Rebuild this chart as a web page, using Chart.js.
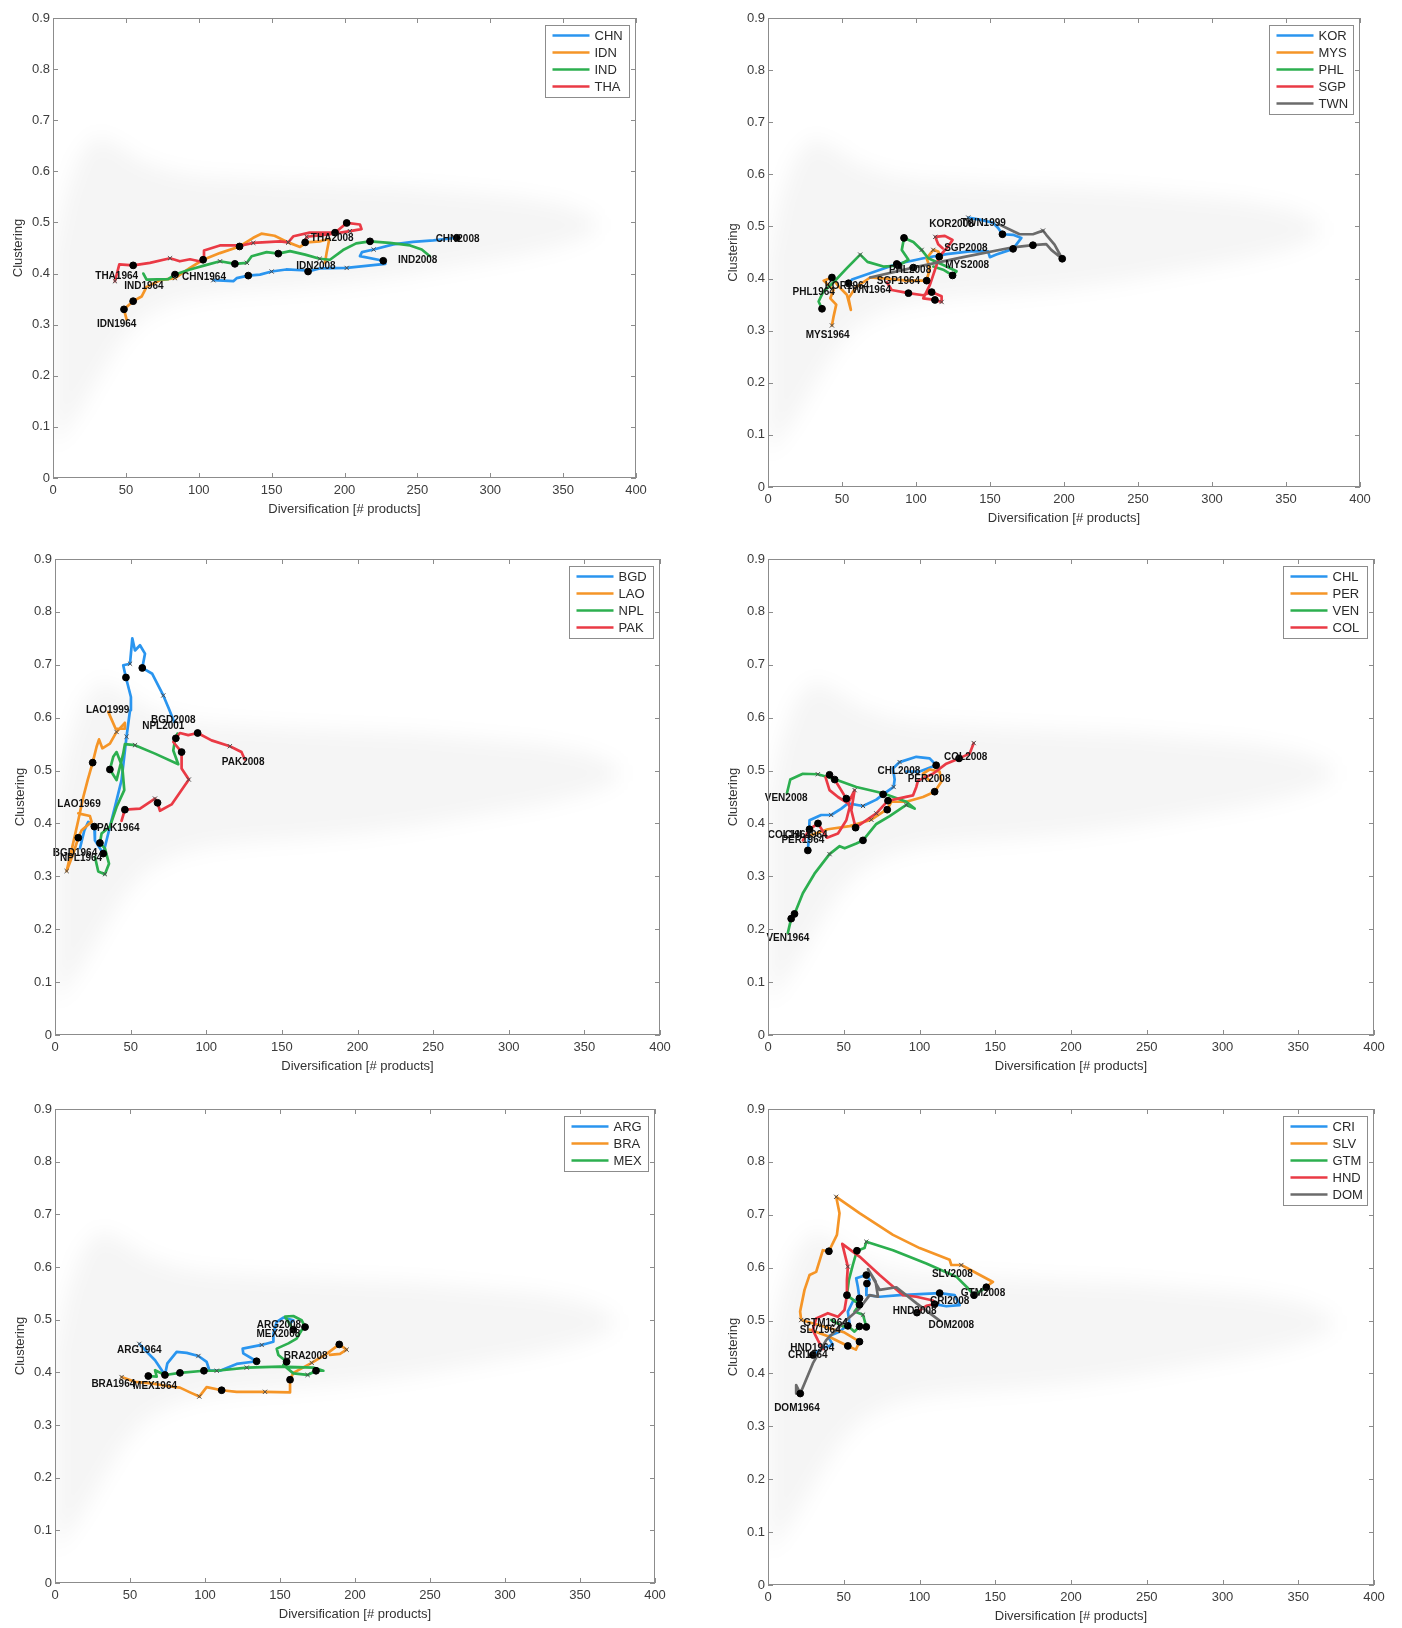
<!DOCTYPE html>
<html>
<head>
<meta charset="utf-8">
<script src="https://cdn.jsdelivr.net/npm/chart.js@4/dist/chart.umd.min.js"></script>
<style>
  html, body { margin: 0; padding: 0; background: #fff; }
  body { width: 1402px; height: 1628px; position: relative; overflow: hidden; }
  canvas.panel { position: absolute; }
</style>
</head>
<body>
<canvas id="p1" class="panel"></canvas>
<canvas id="p2" class="panel"></canvas>
<canvas id="p3" class="panel"></canvas>
<canvas id="p4" class="panel"></canvas>
<canvas id="p5" class="panel"></canvas>
<canvas id="p6" class="panel"></canvas>
<script>
// Axis ticks shared by all panels
const X_TICKS = [0, 50, 100, 150, 200, 250, 300, 350, 400];
const Y_TICKS = [0, 0.1, 0.2, 0.3, 0.4, 0.5, 0.6, 0.7, 0.8, 0.9];

// Envelope of all countries (background cloud): x, upper and lower clustering
const HAZE_X  = [0, 8, 18, 30, 45, 60, 80, 100, 130, 160, 200, 240, 280, 320, 350, 372];
const HAZE_HI = [0.44, 0.55, 0.63, 0.67, 0.65, 0.62, 0.60, 0.59, 0.585, 0.58, 0.575, 0.57, 0.56, 0.55, 0.535, 0.51];
const HAZE_LO = [0.06, 0.09, 0.13, 0.19, 0.26, 0.31, 0.34, 0.355, 0.365, 0.37, 0.38, 0.395, 0.415, 0.435, 0.455, 0.48];

// Trajectories: [diversification, clustering, marker] ; marker 0 none, 1 dot, 2 cross
const CHN = [[110,0.387,2],[123.7,0.385,0],[126,0.391,0],[134,0.396,1],[142,0.398,0],[150,0.404,2],[160,0.408,0],[174,0.406,0],[175,0.404,1],[183,0.410,0],[201.5,0.411,2],[228,0.419,0],[226.6,0.425,1],[210.6,0.434,0],[212,0.442,0],[220,0.447,2],[233.5,0.457,0],[247,0.462,0],[261,0.465,0],[277,0.470,1]];
const IDN = [[50.5,0.310,0],[48.7,0.330,1],[55,0.346,1],[60.8,0.355,0],[64.2,0.374,0],[73.4,0.387,0],[83.7,0.391,2],[94,0.411,0],[103,0.427,0],[114.5,0.440,0],[128,0.453,1],[137.4,0.470,0],[143,0.478,0],[152,0.474,0],[161.4,0.461,2],[169.5,0.452,0],[174,0.461,0],[183,0.463,0],[189.6,0.468,0],[187.7,0.440,0],[186.6,0.421,0]];
const IND = [[62,0.400,0],[64.2,0.388,0],[79,0.389,0],[83.7,0.398,1],[94,0.408,0],[105.4,0.417,0],[114.6,0.424,2],[124.8,0.419,1],[133,0.421,2],[136.3,0.434,0],[146.6,0.442,0],[154.6,0.439,1],[162.6,0.444,0],[173,0.437,0],[183,0.429,2],[190,0.427,0],[199,0.446,0],[208,0.459,0],[217.5,0.463,1],[231,0.460,0],[245,0.455,0],[253,0.447,0],[258.6,0.434,0]];
const THA = [[42.5,0.385,2],[45.5,0.418,0],[55,0.416,1],[66.5,0.421,0],[80.3,0.430,2],[87,0.424,0],[94,0.428,0],[102,0.423,0],[103,0.427,1],[103.6,0.445,0],[114.5,0.455,0],[129.4,0.455,0],[137.4,0.460,2],[155.7,0.463,0],[161.4,0.461,2],[165,0.473,0],[176,0.480,0],[193.5,0.480,1],[201.5,0.499,1],[210.6,0.496,0],[211.7,0.487,0],[203.7,0.483,2],[187.7,0.476,0],[174,0.472,2],[173,0.461,1]];

const KOR = [[54.4,0.391,1],[56.7,0.398,0],[75.8,0.417,0],[87,0.428,1],[105,0.439,0],[120.7,0.447,0],[136.4,0.452,0],[148.7,0.452,0],[149.9,0.441,0],[154.3,0.446,0],[165.6,0.457,1],[171.2,0.478,0],[165.6,0.484,0],[158.4,0.485,1],[155.5,0.497,0],[152,0.507,0],[143,0.513,0],[135.3,0.517,2]];
const MYS = [[43.2,0.310,2],[44.3,0.327,0],[46.1,0.350,0],[42.1,0.362,0],[44.3,0.378,0],[37.6,0.396,0],[43.2,0.402,1],[47.7,0.385,0],[53.3,0.369,0],[56,0.340,0],[54.4,0.362,0],[58.9,0.382,2],[69,0.402,0],[80.3,0.400,0],[93.7,0.396,0],[107.2,0.396,1],[109.4,0.420,0],[107.2,0.439,0],[111.7,0.455,2],[115,0.452,0],[117.3,0.439,0]];
const PHL = [[36.5,0.342,1],[34.2,0.356,0],[37.2,0.374,0],[44.3,0.393,0],[53.3,0.420,0],[62.3,0.446,2],[67.2,0.432,0],[78,0.423,0],[88.1,0.425,1],[94.9,0.436,0],[90.4,0.455,0],[91.9,0.478,1],[98.2,0.470,0],[103.8,0.455,2],[108.3,0.439,0],[118.4,0.426,0],[127.4,0.414,0],[124.7,0.406,1],[118.4,0.417,0],[111.7,0.423,0]];
const SGP = [[80.3,0.393,0],[83.6,0.378,0],[94.9,0.372,1],[104.9,0.368,0],[110.6,0.374,1],[117.3,0.366,0],[117.3,0.355,2],[112.8,0.359,1],[104.9,0.362,0],[109.4,0.388,0],[113.9,0.426,0],[115.7,0.442,1],[121.8,0.462,0],[124.7,0.474,0],[119.5,0.482,0],[113,0.480,2],[115,0.466,0],[118,0.458,0]];
const TWN = [[69,0.402,0],[98.2,0.421,1],[131.9,0.441,0],[165.6,0.460,0],[179,0.464,1],[188,0.466,0],[191.4,0.455,0],[198.8,0.438,1],[193.6,0.465,0],[188,0.484,0],[185.8,0.492,2],[179,0.485,0],[170,0.485,0],[163.3,0.494,0],[155.5,0.505,0]];

const BGD = [[16.5,0.353,0],[19.4,0.387,0],[22,0.403,0],[26,0.394,1],[26.4,0.368,0],[31.9,0.343,1],[35.2,0.381,0],[39.6,0.431,0],[44,0.482,0],[47.3,0.564,2],[49.6,0.614,0],[50.2,0.639,0],[46.9,0.676,1],[45.1,0.699,0],[49.6,0.702,2],[51.1,0.750,0],[52.9,0.727,0],[56.2,0.737,0],[59.5,0.721,0],[57.7,0.694,1],[64.3,0.683,0],[71.6,0.642,2],[75.3,0.617,0],[78.8,0.592,0]];
const LAO = [[15.4,0.419,0],[23.1,0.414,0],[24.2,0.403,0],[17.6,0.387,0],[15.4,0.373,1],[12.1,0.343,0],[7.7,0.310,2],[11,0.350,0],[15.4,0.406,0],[18.7,0.450,0],[21.6,0.482,0],[24.9,0.515,1],[27.5,0.545,0],[29.1,0.559,0],[31.3,0.542,0],[36.3,0.551,0],[40.7,0.573,2],[46.2,0.590,0],[46.2,0.579,0],[40.1,0.579,0],[35.2,0.611,0]];
const NPL = [[26.4,0.337,0],[28.6,0.309,0],[33,0.304,2],[35.7,0.324,0],[33,0.353,0],[29.7,0.363,1],[30.8,0.381,0],[36.3,0.394,0],[40.7,0.431,0],[45.8,0.463,0],[44.5,0.507,0],[40.7,0.535,0],[38.5,0.526,0],[36.3,0.502,1],[40.7,0.482,0],[45.1,0.532,0],[46.2,0.550,0],[52.9,0.548,2],[66.1,0.532,0],[81.5,0.512,0],[78.2,0.538,0],[79.3,0.557,0],[81,0.570,0]];
const PAK = [[44,0.405,0],[46.2,0.426,1],[56.2,0.428,0],[66.1,0.447,2],[67.8,0.439,1],[69.4,0.424,0],[77.1,0.436,0],[88.5,0.483,2],[83.7,0.504,0],[83.7,0.535,1],[78.2,0.554,0],[79.9,0.561,1],[82.6,0.571,0],[88.1,0.567,0],[94.3,0.571,1],[103.5,0.557,0],[115.6,0.546,2],[123.3,0.535,0],[125.5,0.521,0]];

const CHL = [[26.3,0.349,1],[27,0.375,0],[27.4,0.406,0],[35.1,0.416,0],[41.7,0.416,2],[48.4,0.428,0],[52.8,0.438,0],[62.7,0.433,2],[71.5,0.445,0],[76,0.455,1],[82.9,0.469,2],[83.6,0.483,0],[82.5,0.504,0],[86.9,0.516,2],[97.9,0.526,0],[106.7,0.523,0],[111,0.510,1],[100.1,0.498,0],[91.3,0.498,0]];
const PER = [[28.5,0.378,0],[39.5,0.389,0],[53.9,0.395,0],[68.2,0.407,2],[75.9,0.422,0],[78.7,0.426,1],[81.4,0.441,0],[91.3,0.441,0],[102.3,0.450,0],[110,0.460,1],[114.4,0.479,0],[113.3,0.498,0],[106.7,0.502,0],[102.3,0.494,0],[106.7,0.481,0]];
const VEN = [[13.1,0.193,0],[15.3,0.220,1],[17.5,0.229,1],[23,0.268,0],[30.7,0.305,0],[40.6,0.342,2],[47.3,0.357,0],[50.6,0.353,0],[58.3,0.362,0],[62.7,0.368,1],[71.5,0.399,0],[80.3,0.414,0],[91.3,0.435,2],[96.8,0.428,0],[91.3,0.441,0],[75.9,0.457,0],[58.3,0.469,0],[42.8,0.485,0],[32.9,0.493,2],[23,0.494,0],[14.7,0.483,0],[12.5,0.457,0]];
const COL = [[23,0.368,0],[27.4,0.389,1],[33,0.400,1],[38.9,0.373,0],[46.2,0.381,0],[51.7,0.406,0],[53.9,0.431,0],[51.7,0.447,1],[44,0.483,1],[40.6,0.492,1],[38,0.487,0],[40.6,0.463,0],[46.2,0.450,0],[52.8,0.438,0],[57.2,0.463,2],[55,0.425,0],[57.8,0.392,1],[71.5,0.419,2],[79.2,0.443,1],[85.8,0.447,0],[95.7,0.453,0],[97.9,0.469,0],[99,0.481,0],[108.9,0.494,0],[117.7,0.513,0],[126.1,0.523,1],[133.1,0.532,0],[135.8,0.552,2]];

const ARG = [[56.2,0.454,2],[62.2,0.436,0],[66.7,0.423,0],[73.3,0.395,1],[74.9,0.417,0],[81.1,0.439,0],[87.8,0.437,0],[95.6,0.431,2],[101.1,0.420,0],[102.9,0.404,0],[110,0.403,0],[121.1,0.416,0],[134.4,0.421,1],[125.5,0.436,0],[125.1,0.445,0],[137.8,0.452,2],[145.6,0.458,0],[145.6,0.474,0],[147.8,0.496,0],[152.2,0.504,0],[158.9,0.499,0],[156.7,0.493,0]];
const BRA = [[44.4,0.391,2],[53.3,0.382,0],[64.4,0.379,0],[74.4,0.374,0],[83.3,0.371,0],[90,0.362,0],[96.2,0.354,2],[101.1,0.372,0],[111.1,0.366,1],[121.1,0.363,0],[140,0.363,2],[156.7,0.362,0],[156.7,0.386,1],[158.9,0.399,0],[171.1,0.418,2],[181.1,0.435,0],[189.5,0.453,1],[194.4,0.443,2],[190,0.435,0],[183.3,0.433,0]];
const MEX = [[62.2,0.393,1],[67.8,0.392,0],[66.7,0.404,0],[73.3,0.395,0],[83.3,0.399,1],[99.3,0.403,1],[107.8,0.403,2],[127.8,0.409,2],[150,0.411,0],[172.2,0.409,0],[178.9,0.403,0],[174,0.403,1],[168.4,0.395,2],[158.9,0.398,0],[152.2,0.414,0],[154.4,0.420,1],[148.9,0.433,0],[147.8,0.445,0],[155.6,0.455,0],[161.1,0.464,0],[164.4,0.480,0],[166.7,0.486,1],[164.4,0.499,0],[158.9,0.507,0],[153.3,0.506,0],[158.9,0.481,1]];

const CRI = [[29.6,0.435,1],[36.2,0.448,0],[42.8,0.454,0],[39.5,0.470,0],[47.2,0.479,0],[53.8,0.495,0],[52.7,0.517,0],[56,0.536,0],[60.4,0.542,1],[59.3,0.564,0],[58.2,0.580,0],[64.9,0.586,1],[67.1,0.577,0],[65.3,0.570,1],[64.9,0.548,0],[73.7,0.545,0],[86.9,0.548,0],[100.1,0.550,0],[113.3,0.552,1],[123.2,0.548,0],[126.5,0.529,0],[117.7,0.527,0],[110,0.531,0]];
const SLV = [[27.4,0.483,0],[40,0.470,0],[52.7,0.452,1],[58,0.445,0],[60.4,0.460,1],[50,0.478,0],[21.9,0.501,2],[21.2,0.517,0],[24.1,0.558,0],[27.4,0.586,0],[31.8,0.592,0],[36.2,0.633,0],[40.2,0.631,1],[45.5,0.662,0],[47.2,0.703,0],[45,0.734,2],[60.4,0.703,0],[82.5,0.662,0],[100.1,0.637,0],[119.9,0.615,0],[121,0.605,0],[127.6,0.605,2],[148.5,0.573,0],[146.3,0.569,0]];
const GTM = [[41.7,0.501,0],[49.4,0.489,0],[52.7,0.490,1],[57.1,0.479,0],[60.4,0.489,1],[64.9,0.488,1],[62.7,0.511,2],[57.1,0.517,0],[60.4,0.530,1],[52.1,0.548,0],[53.4,0.577,0],[56,0.605,0],[58.7,0.632,1],[63.7,0.637,0],[64.9,0.649,2],[82.5,0.633,0],[104.5,0.608,0],[124.3,0.583,0],[132,0.561,0],[136,0.548,1],[144.1,0.563,1]];
const HND = [[36.2,0.446,0],[32.9,0.463,0],[29.6,0.482,0],[31.8,0.504,0],[39.5,0.514,0],[46.1,0.507,0],[50.5,0.520,0],[52.1,0.548,1],[52.1,0.577,0],[52.7,0.602,2],[49,0.645,0],[60.4,0.621,0],[73.7,0.586,0],[89.1,0.548,0],[97.9,0.545,0],[108.9,0.538,0],[110,0.531,1],[104.5,0.528,0],[98.3,0.515,1]];
const DOM = [[19,0.362,0],[18.6,0.378,0],[21.3,0.362,1],[24.1,0.381,0],[29.6,0.419,0],[38.4,0.463,0],[49.4,0.495,0],[60.4,0.523,0],[67.1,0.548,0],[72.6,0.545,0],[71,0.574,0],[66,0.597,0],[73.7,0.558,0],[84.7,0.563,0],[97.9,0.533,0],[113.3,0.500,0]];

// Start / end annotations: [text, diversification, clustering]
const P1_LABELS = [['THA1964',43.7,0.395],['IND1964',62.4,0.375],['IDN1964',43.7,0.300],['CHN1964',103.6,0.393],['THA2008',191.6,0.470],['IDN2008',180.4,0.414],['CHN2008',277.6,0.468],['IND2008',250.2,0.426]];
const P2_LABELS = [['KOR2008',124,0.505],['TWN1999',145.5,0.506],['SGP2008',133.7,0.458],['MYS2008',134.6,0.425],['PHL2008',96,0.416],['SGP1964',88.1,0.394],['KOR1964',53.3,0.386],['TWN1964',67.9,0.378],['PHL1964',30.9,0.374],['MYS1964',40.3,0.291]];
const P3_LABELS = [['LAO1999',34.8,0.614],['BGD2008',78.2,0.596],['NPL2001',71.6,0.584],['PAK2008',124.4,0.516],['LAO1969',15.9,0.436],['PAK1964',41.8,0.390],['BGD1964',13.2,0.344],['NPL1964',17.2,0.334]];
const P4_LABELS = [['COL2008',130.5,0.525],['CHL2008',86.4,0.498],['PER2008',106.3,0.483],['VEN2008',12,0.448],['COL1964',14.2,0.377],['CHL1964',25.2,0.377],['PER1964',23,0.368],['VEN1964',13.1,0.183]];
const P5_LABELS = [['ARG2008',149.3,0.490],['MEX2008',148.9,0.473],['BRA2008',167.1,0.431],['ARG1964',56.2,0.442],['BRA1964',38.9,0.378],['MEX1964',66.7,0.374]];
const P6_LABELS = [['SLV2008',121.7,0.587],['GTM2008',141.9,0.552],['CRI2008',119.9,0.536],['HND2008',96.8,0.517],['DOM2008',121,0.492],['GTM1964',38,0.494],['SLV1964',34.5,0.482],['HND1964',29.2,0.448],['CRI1964',26.3,0.435],['DOM1964',19.1,0.334]];

// ---------------------------------------------------------------------------
const FONT = '"Liberation Sans", Arial, Helvetica, sans-serif';
const COLORS = ['#2a95ef', '#f59527', '#2caf4f', '#ea3a45', '#6b6b6b'];

const PANELS = [
  { id: 'p1', box: [53, 18, 636, 478], series: [['CHN', CHN], ['IDN', IDN], ['IND', IND], ['THA', THA]], labels: P1_LABELS },
  { id: 'p2', box: [768, 18, 1360, 487], series: [['KOR', KOR], ['MYS', MYS], ['PHL', PHL], ['SGP', SGP], ['TWN', TWN]], labels: P2_LABELS },
  { id: 'p3', box: [55, 559, 660, 1035], series: [['BGD', BGD], ['LAO', LAO], ['NPL', NPL], ['PAK', PAK]], labels: P3_LABELS },
  { id: 'p4', box: [768, 559, 1374, 1035], series: [['CHL', CHL], ['PER', PER], ['VEN', VEN], ['COL', COL]], labels: P4_LABELS },
  { id: 'p5', box: [55, 1109, 655, 1583], series: [['ARG', ARG], ['BRA', BRA], ['MEX', MEX]], labels: P5_LABELS },
  { id: 'p6', box: [768, 1109, 1374, 1585], series: [['CRI', CRI], ['SLV', SLV], ['GTM', GTM], ['HND', HND], ['DOM', DOM]], labels: P6_LABELS }
];

// light cloud behind trajectories
const hazePlugin = {
  id: 'haze',
  beforeDatasetsDraw(chart) {
    const { ctx, chartArea: a, scales: { x, y } } = chart;
    ctx.save();
    ctx.beginPath();
    ctx.rect(a.left, a.top, a.right - a.left, a.bottom - a.top);
    ctx.clip();
    ctx.filter = 'blur(10px)';
    ctx.fillStyle = 'rgba(0,0,0,0.04)';
    ctx.beginPath();
    HAZE_X.forEach((v, i) => {
      const px = x.getPixelForValue(v), py = y.getPixelForValue(HAZE_HI[i]);
      if (i === 0) ctx.moveTo(px, py); else ctx.lineTo(px, py);
    });
    for (let i = HAZE_X.length - 1; i >= 0; i--) {
      ctx.lineTo(x.getPixelForValue(HAZE_X[i]), y.getPixelForValue(HAZE_LO[i]));
    }
    ctx.closePath();
    ctx.fill();
    ctx.restore();
  }
};

// country-year annotations
const tagPlugin = {
  id: 'tags',
  afterDatasetsDraw(chart, args, opts) {
    const { ctx, scales: { x, y } } = chart;
    ctx.save();
    ctx.font = 'bold 10px ' + FONT;
    ctx.fillStyle = '#111';
    ctx.textAlign = 'center';
    ctx.textBaseline = 'middle';
    (opts.items || []).forEach(([t, vx, vy]) => {
      ctx.fillText(t, x.getPixelForValue(vx), y.getPixelForValue(vy));
    });
    ctx.restore();
  }
};

// box frame with inward ticks, then legend
const framePlugin = {
  id: 'frame',
  afterDraw(chart) {
    const { ctx, chartArea: a, scales: { x, y } } = chart;
    ctx.save();
    ctx.strokeStyle = '#8c8c8c';
    ctx.lineWidth = 1;
    ctx.strokeRect(a.left + 0.5, a.top + 0.5, a.right - a.left - 1, a.bottom - a.top - 1);
    ctx.beginPath();
    X_TICKS.forEach(v => {
      const px = Math.round(x.getPixelForValue(v)) + 0.5;
      ctx.moveTo(px, a.bottom); ctx.lineTo(px, a.bottom - 5);
      ctx.moveTo(px, a.top); ctx.lineTo(px, a.top + 5);
    });
    Y_TICKS.forEach(v => {
      const py = Math.round(y.getPixelForValue(v)) + 0.5;
      ctx.moveTo(a.left, py); ctx.lineTo(a.left + 5, py);
      ctx.moveTo(a.right, py); ctx.lineTo(a.right - 5, py);
    });
    ctx.stroke();

    // legend
    const items = chart.data.datasets.filter(d => d.isTrack);
    const w = 84, rowH = 17;
    const h = items.length * rowH + 4;
    const bx = Math.round(a.right - 7 - w) + 0.5, by = Math.round(a.top + 7) + 0.5;
    ctx.fillStyle = '#fff';
    ctx.fillRect(bx, by, w, h);
    ctx.strokeStyle = '#8c8c8c';
    ctx.strokeRect(bx, by, w, h);
    ctx.font = '13px ' + FONT;
    ctx.textBaseline = 'middle';
    ctx.textAlign = 'left';
    items.forEach((d, i) => {
      const cy = by + 10 + i * rowH;
      ctx.strokeStyle = d.borderColor;
      ctx.lineWidth = 2.6;
      ctx.beginPath();
      ctx.moveTo(bx + 7, cy); ctx.lineTo(bx + 44, cy);
      ctx.stroke();
      ctx.fillStyle = '#2a2a2a';
      ctx.fillText(d.label, bx + 49, cy + 0.5);
    });
    ctx.restore();
  }
};

const W_AX = 55, H_AX = 45, PAD_T = 12, PAD_R = 24;

PANELS.forEach(p => {
  const [L, T, R, B] = p.box;
  const cv = document.getElementById(p.id);
  const width = R - L + W_AX + PAD_R, height = B - T + PAD_T + H_AX;
  cv.style.left = (L - W_AX) + 'px';
  cv.style.top = (T - PAD_T) + 'px';
  cv.width = width; cv.height = height;
  cv.style.width = width + 'px'; cv.style.height = height + 'px';

  const datasets = [];
  p.series.forEach(([name, arr], i) => {
    const pts = arr.map(([x, y, m]) => ({ x, y, m }));
    datasets.push({
      isTrack: true, label: name, data: pts, showLine: true,
      borderColor: COLORS[i], borderWidth: 2.7, pointRadius: 0, tension: 0,
      borderJoinStyle: 'round', borderCapStyle: 'round',
      order: 50 - i
    });
  });
  p.series.forEach(([name, arr]) => {
    const pts = arr.filter(r => r[2] > 0).map(([x, y, m]) => ({ x, y, m }));
    datasets.push({
      isTrack: false, label: name + ' marks', data: pts, showLine: false,
      pointStyle: c => (c.raw && c.raw.m === 1 ? 'circle' : 'crossRot'),
      pointRadius: c => (c.raw && c.raw.m === 1 ? 3.4 : 3),
      pointBackgroundColor: '#000',
      pointBorderColor: c => (c.raw && c.raw.m === 1 ? '#000' : '#4a4a4a'),
      pointBorderWidth: 1,
      order: 0
    });
  });

  new Chart(cv, {
    type: 'scatter',
    data: { datasets },
    options: {
      responsive: false, animation: false, devicePixelRatio: 1, events: [],
      layout: { padding: { left: 0, top: PAD_T, right: PAD_R, bottom: 0 } },
      plugins: { legend: { display: false }, tooltip: { enabled: false }, tags: { items: p.labels } },
      scales: {
        x: {
          type: 'linear', min: 0, max: 400,
          afterBuildTicks: s => { s.ticks = X_TICKS.map(v => ({ value: v })); },
          grid: { display: false, drawTicks: false }, border: { display: false },
          ticks: { font: { family: FONT, size: 13 }, color: '#3c3c3c', padding: 5, maxRotation: 0, autoSkip: false },
          title: { display: true, text: 'Diversification [# products]', font: { family: FONT, size: 13 }, color: '#333', padding: { top: 0, bottom: 6 } },
          afterFit: s => { s.height = H_AX; }
        },
        y: {
          type: 'linear', min: 0, max: 0.9,
          afterBuildTicks: s => { s.ticks = Y_TICKS.map(v => ({ value: v })); },
          grid: { display: false, drawTicks: false }, border: { display: false },
          ticks: { font: { family: FONT, size: 13 }, color: '#3c3c3c', padding: 3, autoSkip: false,
                   callback: v => (v === 0 ? '0' : Number(v).toFixed(1)) },
          title: { display: true, text: 'Clustering', font: { family: FONT, size: 13 }, color: '#333', padding: { top: 13, bottom: 0 } },
          afterFit: s => { s.width = W_AX; }
        }
      }
    },
    plugins: [hazePlugin, tagPlugin, framePlugin]
  });
});
</script>
</body>
</html>
